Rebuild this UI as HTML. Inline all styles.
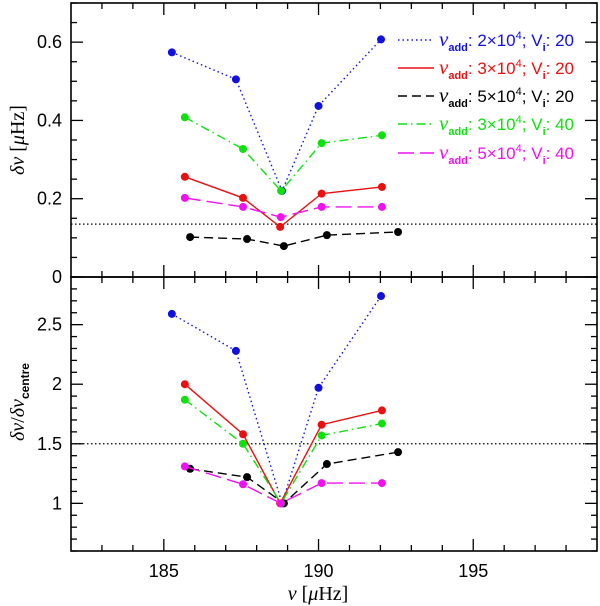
<!DOCTYPE html>
<html><head><meta charset="utf-8">
<style>
html,body{margin:0;padding:0;background:#fff;}
svg{display:block;font-family:"Liberation Sans",sans-serif;}
</style></head>
<body>
<svg id="chart" width="600" height="606" viewBox="0 0 600 606" xmlns="http://www.w3.org/2000/svg"></svg>
<script>
const freqs = [
  [185.26, 187.33, 188.82, 190.0, 192.02],
  [185.68, 187.56, 188.76, 190.1, 192.05],
  [185.85, 187.69, 188.88, 190.27, 192.57],
  [185.68, 187.56, 188.79, 190.1, 192.05],
  [185.68, 187.56, 188.78, 190.1, 192.05]
];
const seriesNames = ["nu2e4-v20", "nu3e4-v20", "nu5e4-v20", "nu3e4-v40", "nu5e4-v40"];
const dnuValues = [
  [0.574, 0.505, 0.220, 0.437, 0.607],
  [0.256, 0.202, 0.128, 0.213, 0.230],
  [0.102, 0.097, 0.079, 0.107, 0.115],
  [0.408, 0.327, 0.220, 0.342, 0.362],
  [0.202, 0.179, 0.153, 0.179, 0.179]
];
const ratioValues = [
  [2.59, 2.28, 1.0, 1.97, 2.74],
  [2.00, 1.58, 1.0, 1.66, 1.78],
  [1.29, 1.22, 1.0, 1.33, 1.43],
  [1.87, 1.50, 1.0, 1.57, 1.67],
  [1.31, 1.16, 1.0, 1.17, 1.17]
];
const legendNums = ["2", "3", "5", "3", "5"];
const legendVi = ["20", "20", "20", "40", "40"];
const xTickLabels = [185, 190, 195];
const topTickLabels = [0, 0.2, 0.4, 0.6];
const botTickLabels = [1, 1.5, 2, 2.5];
const topRef = 0.135;
const botRef = 1.5;

const colors = ["#1010e0", "#e81010", "#000000", "#10e010", "#f010f0"];
const dashes = ["1.5,3", "", "9,5", "9,4,1.5,4", "16,6"];
const NS = "http://www.w3.org/2000/svg";
const svgEl = document.getElementById('chart');
const L = 71, R = 597;
const xmin = 182, xmax = 199;
const X = v => L + (v - xmin) / (xmax - xmin) * (R - L);
const topP = {y0: 3, y1: 277, min: 0, max: 0.7};
const botP = {y0: 277, y1: 551, min: 0.6, max: 2.9};
const Y = (p, v) => p.y1 - (v - p.min) / (p.max - p.min) * (p.y1 - p.y0);

function mk(tag, attrs, parent) {
  const e = document.createElementNS(NS, tag);
  for (const k in attrs) e.setAttribute(k, attrs[k]);
  (parent || svgEl).appendChild(e);
  return e;
}

function panel(p, name, maj, minr, labels, vals, ref) {
  const g = mk('g', {});
  
  
  for (let v = 183; v <= 198; v++) {
    const len = v % 5 === 0 ? 12 : 6;
    const x = X(v);
    mk('line', {x1: x, x2: x, y1: p.y1, y2: p.y1 - len, stroke: '#000', 'stroke-width': 1.3}, g);
    mk('line', {x1: x, x2: x, y1: p.y0, y2: p.y0 + len, stroke: '#000', 'stroke-width': 1.3}, g);
  }
  const n = Math.round((p.max - p.min) / minr);
  for (let i = 0; i <= n; i++) {
    const v = p.min + i * minr;
    const isMaj = Math.abs(v / maj - Math.round(v / maj)) < 1e-6;
    const len = isMaj ? 12 : 6;
    const y = Y(p, v);
    mk('line', {x1: L, x2: L + len, y1: y, y2: y, stroke: '#000', 'stroke-width': 1.3}, g);
    mk('line', {x1: R, x2: R - len, y1: y, y2: y, stroke: '#000', 'stroke-width': 1.3}, g);
  }
  labels.forEach(v => {
    const t = mk('text', {x: 62, y: Y(p, v) + 6, 'text-anchor': 'end', 'font-size': 18}, g);
    t.textContent = String(v);
    
    
  });
  const rl = mk('line', {x1: L, x2: R, y1: Y(p, ref), y2: Y(p, ref), stroke: '#000', 'stroke-width': 1.2, 'stroke-dasharray': '1.5,2.5'}, g);
  
  
  vals.forEach((arr, s) => {
    const sg = mk('g', {}, g);
    
    
    const pts = arr.map((v, i) => X(freqs[s][i]) + ',' + Y(p, v)).join(' ');
    const pl = mk('polyline', {points: pts, fill: 'none', stroke: colors[s], 'stroke-width': 1.4}, sg);
    if (dashes[s]) pl.setAttribute('stroke-dasharray', dashes[s]);
    arr.forEach((v, i) => {
      const c = mk('circle', {cx: X(freqs[s][i]), cy: Y(p, v), r: 4, fill: colors[s]}, sg);
      
      
    });
  });
  const fr = mk('rect', {x: L, y: p.y0, width: R - L, height: p.y1 - p.y0, fill: 'none', stroke: '#000', 'stroke-width': 1.6}, g);
  
  
}

panel(topP, 'top', 0.2, 0.05, topTickLabels, dnuValues, topRef);
panel(botP, 'bottom', 0.5, 0.1, botTickLabels, ratioValues, botRef);

xTickLabels.forEach(v => {
  const t = mk('text', {x: X(v), y: 577, 'text-anchor': 'middle', 'font-size': 18});
  t.textContent = v;
  
  
});

let t = mk('text', {x: 318, y: 600, 'text-anchor': 'middle', 'font-size': 20, 'font-family': '"Liberation Serif",serif'});
t.innerHTML = '<tspan font-style="italic">ν</tspan>  [<tspan font-style="italic">μ</tspan>Hz]';



t = mk('text', {x: 0, y: 0, 'text-anchor': 'middle', 'font-size': 20, 'font-family': '"Liberation Serif",serif', transform: 'translate(24,140) rotate(-90)'});
t.innerHTML = '<tspan font-style="italic">δν</tspan>  [<tspan font-style="italic">μ</tspan>Hz]';



t = mk('text', {x: 0, y: 0, 'text-anchor': 'middle', 'font-size': 20, 'font-family': '"Liberation Serif",serif', transform: 'translate(24,402) rotate(-90)'});
t.innerHTML = '<tspan font-style="italic">δν</tspan>/<tspan font-style="italic">δν</tspan><tspan font-size="12" font-weight="bold" dy="5" font-family="Liberation Sans">centre</tspan>';



const legY = [40, 68, 96, 124, 153];
seriesNames.forEach((nm, s) => {
  const g = mk('g', {});
  
  
  const ln = mk('line', {x1: 398, x2: 434, y1: legY[s], y2: legY[s], stroke: colors[s], 'stroke-width': 1.4}, g);
  if (dashes[s]) ln.setAttribute('stroke-dasharray', dashes[s]);
  const tx = mk('text', {x: 439, y: legY[s] + 6, 'font-size': 17, fill: colors[s], 'xml:space': 'preserve'}, g);
  tx.innerHTML = '<tspan font-family="Liberation Serif" font-style="italic" font-size="21">ν</tspan><tspan font-size="11" font-weight="bold" dy="5">add</tspan><tspan dy="-5">: ' + legendNums[s] + '×10</tspan><tspan font-size="11" dy="-7">4</tspan><tspan dy="7">;  V</tspan><tspan font-size="11" font-weight="bold" dy="5">i</tspan><tspan dy="-5">:  ' + legendVi[s] + '</tspan>';
});
</script>
</body></html>
